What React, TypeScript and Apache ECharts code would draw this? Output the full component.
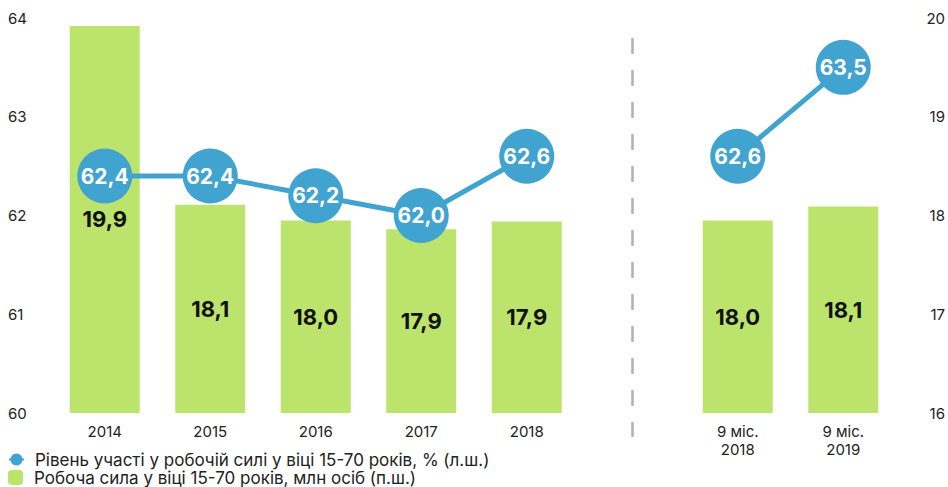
import React, { useEffect, useRef } from "react";
import * as echarts from "echarts";

const categories = ["2014", "2015", "2016", "2017", "2018", "", "9 міс.\n2018", "9 міс.\n2019"];
const participationRate: (number | null)[] = [62.4, 62.4, 62.2, 62.0, 62.6, null, 62.6, 63.5];
const laborForce: (number | null)[] = [19.92, 18.11, 17.95, 17.86, 17.94, null, 17.95, 18.09];
const laborForceLabels = ["19,9", "18,1", "18,0", "17,9", "17,9", "", "18,0", "18,1"];
const leftTicks = { min: 60, max: 64, interval: 1 };
const rightTicks = { min: 16, max: 20, interval: 1 };
const lineName = "Рівень участі у робочій силі у віці 15-70 років, % (л.ш.)";
const barName = "Робоча сила у віці 15-70 років, млн осіб (п.ш.)";
const separatorIndex = 5;

const FONT = "Inter, 'Noto Sans', sans-serif";
const fmt = (v: number) => v.toFixed(1).replace(".", ",");

export default function App() {
  const ref = useRef<HTMLDivElement>(null);
  useEffect(() => {
    if (!ref.current) return;
    const chart = echarts.init(ref.current, null, { renderer: "svg" });
    const legendBase = {
      orient: "horizontal",
      left: 3,
      itemWidth: 15,
      itemHeight: 15,
      textStyle: { fontSize: 17, color: "#222", fontFamily: FONT, padding: [0, 0, 0, 6] },
    };
    chart.setOption({
      animation: false,
      backgroundColor: "#fff",
      textStyle: { fontFamily: FONT },
      grid: { left: 52, right: 52, top: 18, bottom: 74 },
      legend: [
        { ...legendBase, top: 446, data: [lineName] },
        { ...legendBase, top: 464, data: [barName] },
      ],
      xAxis: {
        type: "category",
        data: categories,
        axisLine: { show: false },
        axisTick: { show: false },
        axisLabel: { color: "#222", fontSize: 15, margin: 9, lineHeight: 18, fontFamily: FONT },
      },
      yAxis: [
        {
          type: "value",
          ...leftTicks,
          position: "left",
          splitLine: { show: false },
          axisLine: { show: false },
          axisTick: { show: false },
          axisLabel: { color: "#222", fontSize: 15, align: "left", margin: 44, fontFamily: FONT },
        },
        {
          type: "value",
          ...rightTicks,
          position: "right",
          splitLine: { show: false },
          axisLine: { show: false },
          axisTick: { show: false },
          axisLabel: { color: "#222", fontSize: 15, align: "right", margin: 49, fontFamily: FONT },
        },
      ],
      series: [
        {
          name: barName,
          type: "bar",
          yAxisIndex: 1,
          data: laborForce,
          barWidth: 70,
          itemStyle: { color: "#bce46c" },
          label: {
            show: true,
            position: "inside",
            color: "#111",
            fontSize: 22,
            fontWeight: "bold",
            fontFamily: FONT,
            formatter: (p: any) => laborForceLabels[p.dataIndex],
          },
          z: 1,
        },
        {
          name: lineName,
          type: "line",
          yAxisIndex: 0,
          data: participationRate,
          connectNulls: false,
          symbol: "circle",
          symbolSize: 55,
          lineStyle: { color: "#41a3cf", width: 5 },
          itemStyle: { color: "#41a3cf" },
          label: {
            show: true,
            position: "inside",
            color: "#fff",
            fontSize: 21,
            fontWeight: "bold",
            fontFamily: FONT,
            formatter: (p: any) => fmt(p.value),
          },
          z: 3,
        },
      ],
    });
    const x = chart.convertToPixel({ xAxisIndex: 0 }, separatorIndex) as number;
    chart.setOption({
      graphic: [
        {
          type: "line",
          shape: { x1: Math.round(x) + 0.5, y1: 38, x2: Math.round(x) + 0.5, y2: 437 },
          style: { stroke: "#b0b0b0", lineWidth: 2.5, lineDash: [16, 16] },
          silent: true,
        },
      ],
    });
    return () => chart.dispose();
  }, []);
  return <div ref={ref} style={{ width: 948, height: 487, position: "absolute", left: 0, top: 0 }} />;
}
